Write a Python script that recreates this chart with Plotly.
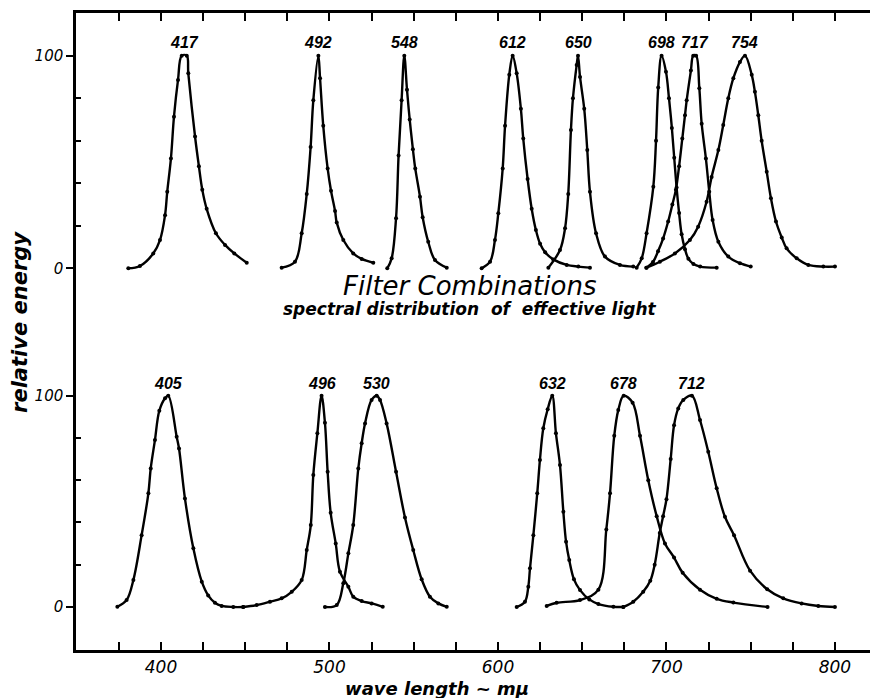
import plotly.graph_objects as go

# ---------------- data (wavelength in mu, relative energy) ----------------
# upper panel
wl_417 = [380.6, 387.5, 395.4, 399.4, 402.4, 403.7, 405.9, 407.7, 410.1, 412.3, 415.3, 416.2, 420.2, 422.5, 424.5, 427.1, 432.6, 438.0, 443.5, 450.9]
en_417 = [0, 1.1, 7.0, 13.3, 25, 36, 51.7, 71.3, 88.6, 100, 100, 91.7, 62, 48, 37, 28, 16.5, 11, 7, 2.6]

wl_492 = [471.6, 479.5, 483.5, 486.5, 488.8, 490.4, 493.4, 494.4, 496.3, 498.9, 500.9, 503.3, 504.3, 508.2, 514.1, 519.1, 526.0]
en_492 = [0.3, 3.1, 16.5, 35, 57, 79, 100, 89.4, 67, 47, 36.5, 27, 21.5, 13.3, 7, 4.4, 2.6]

wl_548 = [534.3, 536.9, 539.5, 541.0, 542.8, 544.4, 546.0, 547.6, 549.5, 550.9, 553.7, 555.3, 558.6, 562.6, 569.6]
en_548 = [0, 4.7, 23.5, 53, 79, 100, 84, 70, 56, 47, 33.7, 24, 12.5, 3.9, 0.3]

wl_612 = [590.3, 595.3, 598.2, 600.2, 602.8, 604.2, 606.7, 608.7, 611.1, 613.6, 615.0, 617.6, 620.0, 622.5, 625.0, 628.0, 632.8, 640.8, 647.7, 654.6]
en_612 = [0, 3.1, 13.3, 25.9, 47, 67, 91, 100, 91.7, 75, 61, 42, 28, 18, 11.5, 7.5, 4.2, 1.6, 0.8, 0.3]

wl_650 = [629.9, 636.8, 639.8, 641.7, 643.3, 644.5, 646.7, 647.5, 648.7, 651.2, 653.0, 654.6, 658.2, 663.5, 672.4, 680.3]
en_650 = [0.3, 8.6, 18.8, 35, 65, 80, 95.6, 100, 90, 75, 55.6, 36, 16.5, 5.5, 1.6, 0.8]

wl_698 = [682.3, 685.3, 688.2, 692.2, 693.8, 695.1, 697.1, 699.7, 701.5, 703.2, 704.6, 706.0, 707.5, 709.0, 711.0, 713.0, 716.0, 720.0, 729.8]
en_698 = [0.3, 4.7, 16.5, 38.4, 60, 85, 100, 92.5, 80, 66, 52, 38, 26, 16, 9, 4.5, 2, 0.8, 0.3]

wl_717 = [688.0, 692.0, 695.0, 698.0, 701.0, 703.5, 705.6, 707.5, 709.4, 711.0, 712.0, 714.5, 715.9, 717.6, 719.5, 720.9, 723.4, 725.4, 727.4, 730.8, 736.7, 743.6, 750.0]
en_717 = [0.3, 3, 8, 14, 22, 30, 37, 48, 61, 72, 79, 93, 100, 100, 84.7, 68, 51.7, 36, 22.7, 12.5, 5.5, 2.4, 0.8]

wl_754 = [688.2, 696.1, 705.0, 713.9, 718.8, 723.8, 726.8, 730.8, 733.7, 736.7, 739.7, 743.6, 746.6, 750.6, 752.5, 754.5, 756.5, 759.5, 762.0, 765.0, 768.4, 771.3, 777.3, 784.2, 793.1, 800.0]
en_754 = [0.3, 3.1, 7, 13.3, 19.6, 31.3, 43, 55.6, 67.4, 80, 89.4, 97, 100, 91, 83, 72, 60, 45.4, 33, 22, 14.5, 9.4, 4.7, 1.6, 0.8, 0.8]

# lower panel
wl_405 = [374.1, 379.6, 383.6, 388.5, 392.5, 393.9, 396.4, 399.0, 402.4, 404.3, 409.3, 410.7, 414.2, 419.2, 424.2, 428.0, 432.0, 436.0, 442.9, 448.8]
en_405 = [0.1, 3.3, 12.8, 34, 53.8, 65.6, 79, 92.9, 98.8, 100, 80.6, 75, 51.4, 27.8, 12, 5.5, 2, 0.5, 0, 0]

wl_496 = [448.8, 456.8, 464.7, 471.6, 477.6, 483.5, 486.5, 488.9, 490.4, 492.8, 495.3, 497.3, 498.9, 500.7, 503.7, 506.2, 511.2, 514.1, 519.1, 525.0, 531.6]
en_496 = [0, 0.9, 2.5, 4.1, 7.2, 12.8, 27, 38.8, 62.5, 82.2, 100, 87.2, 64, 44.6, 30.1, 16.7, 9.6, 4.9, 2.8, 1.7, 0.1]

wl_530 = [497.3, 504.3, 508.2, 511.2, 514.1, 517.1, 519.1, 521.1, 525.0, 528.0, 530.0, 533.9, 539.5, 544.8, 549.7, 554.7, 559.6, 564.6, 569.6]
en_530 = [0, 0.9, 11.2, 25.4, 38.8, 65.6, 77.5, 86.9, 98, 100, 98, 86.9, 64, 42.4, 27, 13.1, 4.9, 1.7, 0.1]

wl_632 = [611.1, 616.0, 618.0, 619.0, 621.0, 623.3, 624.9, 626.9, 629.5, 632.2, 634.4, 636.8, 638.8, 640.4, 642.3, 645.1, 648.7, 654.2, 659.6, 668.5, 674.4]
en_632 = [0, 2.5, 9.6, 18.3, 34, 53.8, 69.6, 84.6, 93.6, 100, 82.2, 67.2, 45.1, 30.9, 22.2, 13.1, 8, 3.6, 1.4, 0.1, 0]

wl_678 = [628.9, 634.8, 648.7, 659.6, 664.3, 666.5, 669.0, 671.4, 674.6, 679.9, 684.3, 689.2, 694.2, 699.1, 704.5, 709.6, 719.9, 729.8, 739.7, 760.0]
en_678 = [0.5, 2, 3.3, 8.2, 36.7, 53.8, 81, 93.2, 100, 96.7, 81, 60, 43, 30.1, 23.4, 16.2, 8.2, 3.9, 2.1, 0]

wl_712 = [674.4, 680.3, 686.2, 690.4, 693.0, 696.0, 698.0, 700.0, 702.5, 704.5, 707.0, 710.0, 715.1, 719.9, 724.8, 729.8, 734.7, 740.1, 749.6, 759.8, 769.3, 780.2, 790.1, 800.0]
en_712 = [0, 2.5, 7.2, 12.4, 20, 35, 43, 51, 70, 86, 94, 98, 100, 88.5, 73.5, 56.2, 42.7, 34, 17.2, 8.4, 4.1, 1.7, 0.5, 0]

upper_curves = [("417", wl_417, en_417), ("492", wl_492, en_492), ("548", wl_548, en_548),
                ("612", wl_612, en_612), ("650", wl_650, en_650), ("698", wl_698, en_698),
                ("717", wl_717, en_717), ("754", wl_754, en_754)]
lower_curves = [("405", wl_405, en_405), ("496", wl_496, en_496), ("530", wl_530, en_530),
                ("632", wl_632, en_632), ("678", wl_678, en_678), ("712", wl_712, en_712)]

x_ticks = [400, 500, 600, 700, 800]
y_ticks = [0, 100]
y_minor = [20, 40, 60, 80]

title_text = "Filter Combinations"
subtitle_text = "spectral distribution  of  effective light"
x_title = "wave length ~ m\u03bc"
y_title = "relative energy"

# ---------------- figure ----------------
FONT = "DejaVu Sans"
fig = go.Figure()


def add_curves(curves, xa, ya):
    for label, xs, ys in curves:
        fig.add_trace(go.Scatter(
            x=xs, y=ys, xaxis=xa, yaxis=ya, mode="lines+markers",
            line=dict(color="black", width=2.4, shape="spline", smoothing=1.0),
            marker=dict(size=4, color="black"),
            showlegend=False, hoverinfo="skip"))
        top = max(ys)
        peak_x = [xv for xv, yv in zip(xs, ys) if yv == top]
        fig.add_annotation(x=sum(peak_x) / len(peak_x), y=106, xref=xa, yref=ya,
                           text=label, showarrow=False, xanchor="center", yanchor="middle",
                           font=dict(family="Liberation Sans", size=16, color="black",
                                     style="italic", weight="bold"))


add_curves(upper_curves, "x2", "y2")
add_curves(lower_curves, "x", "y")

axis_common = dict(showline=True, linewidth=2.5, linecolor="black", showgrid=False,
                   zeroline=False, mirror=False, automargin=False)

fig.update_layout(
    width=870, height=698,
    margin=dict(l=76, r=0, t=13, b=48, autoexpand=False),
    paper_bgcolor="white", plot_bgcolor="white",
    xaxis=dict(domain=[0, 1], anchor="y", range=[349.55, 820.8],
               tickvals=x_ticks, ticks="inside", ticklen=8, tickwidth=1.6, tickcolor="black",
               minor=dict(dtick=25, tick0=0, ticks="inside", ticklen=8, tickwidth=1.6, tickcolor="black"),
               tickfont=dict(family=FONT, size=17, color="black", style="italic"),
               **axis_common),
    xaxis2=dict(domain=[0, 1], anchor="y2", matches="x", side="top", showticklabels=False,
                tickvals=x_ticks, ticks="inside", ticklen=8, tickwidth=1.6, tickcolor="black",
                minor=dict(dtick=25, tick0=0, ticks="inside", ticklen=8, tickwidth=1.6, tickcolor="black"),
                **axis_common),
    yaxis=dict(domain=[0, 0.4992], anchor="x", range=[-20.35, 130.15],
               tickvals=y_ticks, ticks="outside", ticklen=7, tickwidth=1.6, tickcolor="black",
               minor=dict(tickvals=y_minor, ticks="inside", ticklen=5, tickwidth=1.6, tickcolor="black"),
               tickfont=dict(family=FONT, size=15, color="black", style="italic"),
               **axis_common),
    yaxis2=dict(domain=[0.4992, 1], anchor="x2", range=[-29.96, 120.08],
                tickvals=y_ticks, ticks="outside", ticklen=7, tickwidth=1.6, tickcolor="black",
                minor=dict(tickvals=y_minor, ticks="inside", ticklen=5, tickwidth=1.6, tickcolor="black"),
                tickfont=dict(family=FONT, size=15, color="black", style="italic"),
                **axis_common),
)

fig.add_annotation(x=0.496, y=0.5714, xref="paper", yref="paper", text=title_text,
                   showarrow=False, xanchor="center", yanchor="middle",
                   font=dict(family=FONT, size=26, color="black", style="italic"))
fig.add_annotation(x=0.496, y=0.535, xref="paper", yref="paper", text=subtitle_text,
                   showarrow=False, xanchor="center", yanchor="middle",
                   font=dict(family=FONT, size=17, color="black", style="italic", weight="bold"))
fig.add_annotation(x=0.4547, y=-0.0597, xref="paper", yref="paper", text=x_title,
                   showarrow=False, xanchor="center", yanchor="middle",
                   font=dict(family=FONT, size=18, color="black", style="italic", weight="bold"))
fig.add_annotation(x=-0.0705, y=0.515, xref="paper", yref="paper", text=y_title,
                   showarrow=False, textangle=-90, xanchor="center", yanchor="middle",
                   font=dict(family=FONT, size=21, color="black", style="italic", weight="bold"))

fig.write_html("out.html", config={"displayModeBar": False},
               post_script="document.body.style.margin='0';document.body.style.overflow='hidden';")
